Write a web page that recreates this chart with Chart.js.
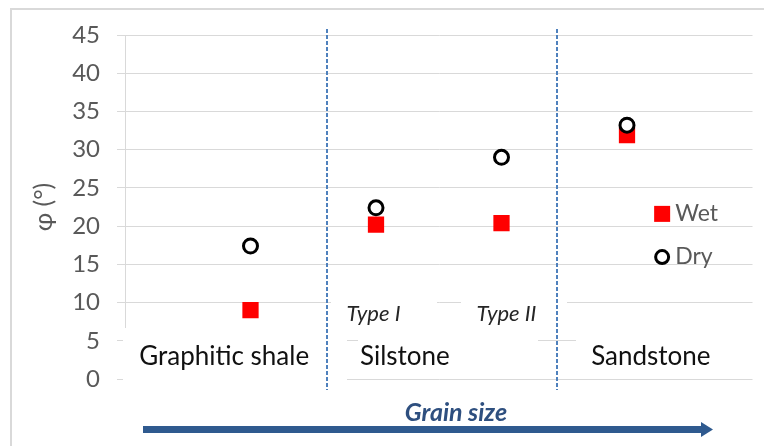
<!DOCTYPE html>
<html>
<head>
<meta charset="utf-8">
<script src="https://cdn.jsdelivr.net/npm/chart.js@4"></script>
<style>
  body { margin: 0; background: #fff; }
  #wrap { position: relative; width: 764px; height: 446px; }
</style>
</head>
<body>
<div id="wrap"><canvas id="phiChart"></canvas></div>
<script>
// rock groups along the grain-size axis
const groupNames = ["Graphitic shale", "Type I", "Type II", "Sandstone"];
const groupPos = [1, 2, 3, 4];
const wetPhi = [9.0, 20.2, 20.4, 31.9];
const dryPhi = [17.4, 22.4, 29.0, 33.2];
const yTicks = [0, 5, 10, 15, 20, 25, 30, 35, 40, 45];

// bottom labels and separators between rock families
const familyNames = ["Graphitic shale", "Silstone", "Sandstone"];
const familyPos = [0.79, 2.23, 4.19];
const subTypeNames = ["Type I", "Type II"];
const subTypePos = [1.98, 3.04];
const dividers = [1.61, 3.44];

const FONT = "Lato, 'Open Sans', sans-serif";

const decorPlugin = {
  id: "decor",
  beforeDraw(chart) {
    const ctx = chart.ctx;
    ctx.save();
    ctx.strokeStyle = "#d9d9d9";
    ctx.lineWidth = 2;
    ctx.beginPath();
    ctx.moveTo(11, 446);
    ctx.lineTo(11, 9);
    ctx.lineTo(764, 9);
    ctx.stroke();
    ctx.restore();
  },
  beforeDatasetsDraw(chart) {
    const ctx = chart.ctx;
    const x = chart.scales.x;
    ctx.save();
    // white label boxes sitting over the grid
    ctx.fillStyle = "#fff";
    ctx.fillRect(123, 328, 224, 68);
    ctx.fillRect(331, 290, 106, 35);
    ctx.fillRect(461, 290, 106, 35);
    ctx.fillRect(358, 330, 180, 42);
    ctx.fillRect(576, 330, 177, 42);

    // dashed separators
    ctx.strokeStyle = "#4f81bd";
    ctx.lineWidth = 2;
    ctx.setLineDash([4, 2]);
    dividers.forEach(d => {
      const px = Math.round(x.getPixelForValue(d));
      ctx.beginPath();
      ctx.moveTo(px, 29);
      ctx.lineTo(px, 390);
      ctx.stroke();
    });
    ctx.setLineDash([]);

    ctx.textAlign = "center";
    ctx.textBaseline = "middle";
    ctx.fillStyle = "#111";
    ctx.font = "26px " + FONT;
    familyNames.forEach((n, i) => {
      ctx.fillText(n, x.getPixelForValue(familyPos[i]), 357);
    });
    ctx.fillStyle = "#262626";
    ctx.font = "italic 22px " + FONT;
    subTypeNames.forEach((n, i) => {
      ctx.fillText(n, x.getPixelForValue(subTypePos[i]), 314);
    });

    // grain size arrow
    ctx.fillStyle = "#2f5a8f";
    ctx.fillRect(143, 426, 560, 7);
    ctx.beginPath();
    ctx.moveTo(701, 422);
    ctx.lineTo(713, 429.5);
    ctx.lineTo(701, 437);
    ctx.closePath();
    ctx.fill();
    ctx.fillStyle = "#2e4f7f";
    ctx.font = "italic bold 25px " + FONT;
    ctx.fillText("Grain size", 456, 413);
    ctx.restore();
  },
  afterDatasetsDraw(chart) {
    const ctx = chart.ctx;
    const x = chart.scales.x, y = chart.scales.y;
    const lx = x.getPixelForValue(4.28);
    const wy = y.getPixelForValue(21.6);
    const dy = y.getPixelForValue(15.95);
    ctx.save();
    ctx.fillStyle = "#ff0000";
    ctx.fillRect(lx - 8, wy - 8, 16, 16);
    ctx.beginPath();
    ctx.arc(lx, dy, 6.5, 0, Math.PI * 2);
    ctx.fillStyle = "#fff";
    ctx.fill();
    ctx.lineWidth = 3;
    ctx.strokeStyle = "#000";
    ctx.stroke();
    ctx.fillStyle = "#595959";
    ctx.font = "23px " + FONT;
    ctx.textAlign = "left";
    ctx.textBaseline = "middle";
    ctx.fillText("Wet", lx + 13, wy);
    ctx.fillText("Dry", lx + 13, dy);
    ctx.restore();
  }
};

new Chart(document.getElementById("phiChart"), {
  type: "scatter",
  data: {
    datasets: [
      {
        label: "Dry",
        data: groupPos.map((p, i) => ({ x: p, y: dryPhi[i] })),
        pointStyle: "circle",
        pointRadius: 7,
        pointHoverRadius: 7,
        borderWidth: 3,
        borderColor: "#000",
        backgroundColor: "#fff"
      },
      {
        label: "Wet",
        data: groupPos.map((p, i) => ({ x: p, y: wetPhi[i] })),
        pointStyle: "rect",
        pointRadius: 11.5,
        pointHoverRadius: 11.5,
        borderWidth: 0,
        backgroundColor: "#ff0000"
      }
    ]
  },
  options: {
    responsive: true,
    maintainAspectRatio: false,
    animation: false,
    layout: { padding: { top: 35, bottom: 67, right: 7, left: 0 } },
    plugins: {
      legend: { display: false },
      tooltip: { enabled: false }
    },
    scales: {
      x: { type: "linear", min: 0, max: 5, display: false },
      y: {
        min: 0,
        max: 45,
        afterFit(scale) { scale.width = 125; },
        afterBuildTicks(scale) { scale.ticks = yTicks.map(v => ({ value: v })); },
        border: { display: true, color: "#d9d9d9", width: 1 },
        grid: { color: "#d9d9d9", lineWidth: 1, tickLength: 8 },
        ticks: { color: "#595959", padding: 17, font: { family: FONT, size: 24 } },
        title: {
          display: true,
          text: "φ (°)",
          color: "#595959",
          padding: { top: 29 },
          font: { family: FONT, size: 25 }
        }
      }
    }
  },
  plugins: [decorPlugin]
});
</script>
</body>
</html>
